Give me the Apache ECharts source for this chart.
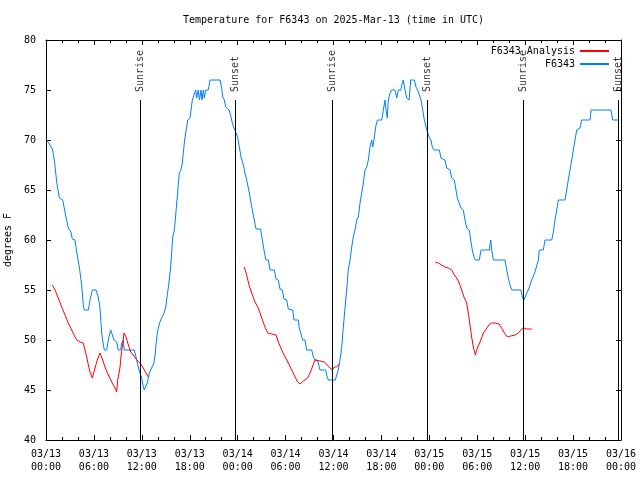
<!DOCTYPE html>
<html>
<head>
<meta charset="utf-8">
<script src="https://cdn.jsdelivr.net/npm/echarts@6/dist/echarts.min.js"></script>
<style>
html,body{margin:0;padding:0;background:#fff;}
#chart{width:640px;height:480px;}
</style>
</head>
<body>
<div id="chart"></div>
<script>
// Hours since 2025-03-13 00:00 UTC
var xTickLabels = ['03/13\n00:00','03/13\n06:00','03/13\n12:00','03/13\n18:00','03/14\n00:00','03/14\n06:00','03/14\n12:00','03/14\n18:00','03/15\n00:00','03/15\n06:00','03/15\n12:00','03/15\n18:00','03/16\n00:00'];

var obsTimes = [0.1,0.50,0.84,1.09,1.34,1.67,2.09,2.50,2.79,3.13,3.29,3.63,3.84,4.17,4.47,4.67,4.80,5.30,5.51,5.80,6.26,6.55,6.76,6.97,7.18,7.30,7.60,7.80,8.10,8.35,8.52,8.85,9.05,9.35,9.48,9.68,9.80,11.06,11.27,11.43,11.65,11.77,11.98,12.18,12.31,12.52,12.68,12.94,13.11,13.31,13.52,13.69,13.77,13.94,14.15,14.36,14.56,14.78,14.99,15.19,15.36,15.53,15.65,15.78,15.87,16.03,16.19,16.37,16.49,16.57,16.69,16.90,17.07,17.19,17.32,17.49,17.62,17.74,18.03,18.16,18.32,18.53,18.75,18.87,19.07,19.22,19.41,19.53,19.70,19.82,20.00,20.32,20.54,21.79,22.00,22.13,22.33,22.50,22.75,22.92,23.17,23.33,23.54,23.79,24.00,24.21,24.42,24.71,24.92,25.21,25.46,25.67,25.88,26.08,26.30,26.88,27.08,27.34,27.55,27.84,28.05,28.59,28.80,29.09,29.30,29.59,29.80,30.14,30.34,30.89,31.06,31.59,31.72,31.93,32.14,32.43,32.64,33.27,33.47,33.68,33.97,34.10,34.31,35.02,35.15,35.35,36.23,36.40,36.60,36.81,37.03,37.23,37.44,37.65,37.85,38.07,38.28,38.48,38.69,38.90,39.11,39.32,39.53,39.73,39.95,40.16,40.36,40.57,40.78,40.91,41.07,41.28,41.49,42.04,42.24,42.45,42.58,42.74,42.86,43.08,43.29,43.70,43.92,44.12,44.42,44.62,44.74,44.95,45.17,45.46,45.67,46.12,46.33,46.54,46.74,46.96,47.17,47.37,47.58,47.80,48.00,48.21,48.37,48.59,49.25,49.46,49.96,50.18,50.59,50.80,51.13,51.34,51.50,51.75,51.97,52.25,52.47,52.68,53.01,53.18,53.38,53.59,53.76,54.26,54.47,55.51,55.69,55.81,56.02,57.48,57.69,57.89,58.10,58.32,59.48,59.64,59.86,60.02,60.19,60.39,60.61,60.82,61.02,61.23,61.45,61.65,61.77,62.27,62.49,63.33,63.53,63.74,63.95,64.15,64.99,65.20,65.40,65.62,65.83,66.03,66.24,66.46,66.87,67.08,68.12,68.25,70.75,70.96,71.79];
var obsTemps = [70,69.5,69,67.7,65.8,64.2,64,62.3,61.2,60.8,60.1,60,58.8,57.3,55.5,53.5,53,53,54,55,55,54.3,53.2,50.7,49.5,49,49,50,51,51,50,49.8,49,49,49.7,50,49,49,48.3,47.7,47,47,46.2,45.3,45,45,45.7,46.7,47,47,47.7,48.7,49.5,50.7,51.5,52,52,52.7,53.3,54.5,55.5,56.7,57.7,59.3,60.3,60.8,62,63.7,64.7,65.7,66.7,67,67.7,68.7,69.7,70.7,71.3,72,72.2,73,74,74.2,75,74.2,75,74,75,74,75,74.2,75,75,76,76,75.2,74.3,74,73.3,73.2,73,72.3,71.7,71.2,71,70.3,69.3,68.3,67.5,66.7,65.7,64.7,63.7,62.8,62,61.1,61.1,60,58.8,58,58,57,57,56.1,56,55.1,55,54.1,54,53.1,53,52,52,51.2,51,50,50,49,49,48.3,48,48,47.7,47,47,46.5,46,46,46.5,47,48,49.3,51.3,53.2,55,57,58,59.3,60.3,61,62,62.3,63.7,64.7,65.7,67,67.3,68,69.3,70,69.3,70,71.3,72,72,73,74,73,72.2,74,74.7,75,75,74.2,75,75,75.7,76,75,74.2,74,76,76,75.3,75,75,74,73,72,71.3,70.7,70.3,70,69.3,69,69,68.2,68,67.2,67,66.2,66,65,64.2,64,63.2,63,62,61.2,61,60,59,58.3,58,58,59,59,60,59,58,58,57,56.2,55.5,55,55,54.3,54,54,54.7,55,55.5,56,56,56.8,57,58,59,59,60,60,60.8,62,63,64,64,65,66,67,68,69,70,71,71.2,72,72,73,73,72,72];

// null temperature = gap between analysis runs
var anaTimes = [0.79,1.13,1.54,1.97,2.38,2.79,3.22,3.63,3.84,4.26,4.67,4.88,5.10,5.30,5.51,5.80,6.14,6.42,6.76,6.97,7.39,7.80,8.23,8.64,8.85,8.98,9.14,9.27,9.39,9.55,9.77,10.02,10.31,10.61,10.93,11.36,11.77,12.18,12.52,12.81,
  18.0,
  24.83,25.13,25.42,25.76,26.17,26.58,27.01,27.42,27.76,28.26,28.80,29.09,29.52,29.93,30.34,30.77,31.18,31.52,31.81,32.22,32.77,33.06,33.35,33.68,33.90,34.31,34.85,35.22,35.56,35.85,36.10,36.40,36.69,
  42.0,
  48.75,49.12,49.55,49.96,50.38,50.80,51.13,51.43,51.75,52.05,52.34,52.68,52.88,53.09,53.30,53.51,53.76,54.01,54.35,54.76,55.19,55.47,55.81,56.22,56.73,57.06,57.48,57.77,58.19,58.73,59.15,59.57,59.86,60.19,60.82];
var anaTemps = [55.5,55,54.2,53.3,52.5,51.7,51,50.3,50,49.8,49.7,49,48.3,47.5,46.8,46.2,47.2,48,48.7,48.3,47.3,46.5,45.8,45.2,44.8,46,46.7,47.3,48.3,49.3,50.7,50.3,49.5,48.8,48.5,48,47.7,47.2,46.7,46.3,
  null,
  57.3,56.5,55.5,54.7,53.8,53.2,52.2,51.3,50.7,50.6,50.5,49.8,49,48.3,47.7,47,46.3,45.8,45.6,45.9,46.2,46.7,47.3,48,48.1,47.9,47.8,47.5,47.2,47,47.3,47.3,47.6,
  null,
  57.8,57.7,57.5,57.3,57.2,57,56.5,56.2,55.7,55,54.3,53.7,52.7,51.5,50.3,49.3,48.5,49.2,49.8,50.7,51.2,51.5,51.7,51.7,51.6,51.2,50.6,50.3,50.4,50.5,50.7,51.1,51.2,51.1,51.1];

var eventTimes = [11.77,23.67,35.81,47.71,59.73,71.63];
var eventNames = ['Sunrise','Sunset','Sunrise','Sunset','Sunrise','Sunset'];
var eventLineTop = 74;

var FONT = 'DejaVu Sans Mono';

function pairs(xs, ys){ return xs.map(function(x,i){ return [x, ys[i] === null ? '-' : ys[i]]; }); }

var chart = echarts.init(document.getElementById('chart'), null, {renderer:'canvas'});

var xBase = {
  type:'value', min:0, max:72, interval:6,
  splitLine:{show:false},
  axisLine:{show:true, onZero:false, lineStyle:{color:'#000', width:1}},
  axisTick:{show:true, inside:true, length:5, lineStyle:{color:'#000'}},
  minorTick:{show:true, splitNumber:3, length:3, lineStyle:{color:'#000'}}
};
var yBase = {
  type:'value', min:40, max:80, interval:5,
  splitLine:{show:false},
  axisLine:{show:true, onZero:false, lineStyle:{color:'#000', width:1}},
  axisTick:{show:true, inside:true, length:5, lineStyle:{color:'#000'}}
};

var option = {
  animation:false,
  backgroundColor:'#fff',
  title:{
    text:'Temperature for F6343 on 2025-Mar-13 (time in UTC)',
    left:178, top:10,
    textStyle:{fontFamily:FONT, fontSize:10, fontWeight:'normal', color:'#000'}
  },
  legend:{
    data:['F6343 Analysis','F6343'],
    orient:'vertical', align:'right',
    right:26, top:40,
    icon:'rect', itemWidth:29, itemHeight:2, itemGap:1,
    textStyle:{fontFamily:FONT, fontSize:10, color:'#000', lineHeight:12}
  },
  grid:{left:46, right:19, top:40, bottom:40, show:false, containLabel:false, outerBoundsMode:'none'},
  xAxis:[
    Object.assign({}, xBase, {
      position:'bottom',
      axisLabel:{show:true, margin:8, fontFamily:FONT, fontSize:10, color:'#000', lineHeight:13,
        formatter:function(v){ return xTickLabels[Math.round(v/6)] || ''; }}
    }),
    Object.assign({}, xBase, {position:'top', axisLabel:{show:false}})
  ],
  yAxis:[
    Object.assign({}, yBase, {
      position:'left',
      name:'degrees F', nameLocation:'middle', nameRotate:90, nameGap:28,
      nameTextStyle:{fontFamily:FONT, fontSize:10, color:'#000'},
      axisLabel:{show:true, margin:10, fontFamily:FONT, fontSize:10, color:'#000'}
    }),
    Object.assign({}, yBase, {position:'right', axisLabel:{show:false}})
  ],
  series:[
    {
      name:'F6343 Analysis', type:'line', xAxisIndex:0, yAxisIndex:0,
      data:pairs(anaTimes, anaTemps), showSymbol:false, symbol:'none',
      connectNulls:false,
      lineStyle:{color:'#ff0000', width:1}, itemStyle:{color:'#ff0000'}, z:3
    },
    {
      name:'F6343', type:'line', xAxisIndex:0, yAxisIndex:0,
      data:pairs(obsTimes, obsTemps), showSymbol:false, symbol:'none',
      lineStyle:{color:'#0080ff', width:1}, itemStyle:{color:'#0080ff'}, z:2
    },
    {
      name:'events', type:'scatter', xAxisIndex:0, yAxisIndex:0,
      symbolSize:0, silent:true, z:4,
      data:eventTimes.map(function(t,i){ return {value:[t, eventLineTop], name:eventNames[i]}; }),
      label:{show:true, formatter:'{b}', position:'top', distance:8, rotate:90,
        align:'left', verticalAlign:'middle', fontFamily:FONT, fontSize:10, color:'#000'},
      markLine:{
        silent:true, symbol:['none','none'],
        lineStyle:{color:'#000', width:1, type:'solid'},
        label:{show:false},
        data:eventTimes.map(function(t){ return [{coord:[t,40]},{coord:[t,eventLineTop]}]; })
      }
    }
  ]
};
chart.setOption(option);
</script>
</body>
</html>
